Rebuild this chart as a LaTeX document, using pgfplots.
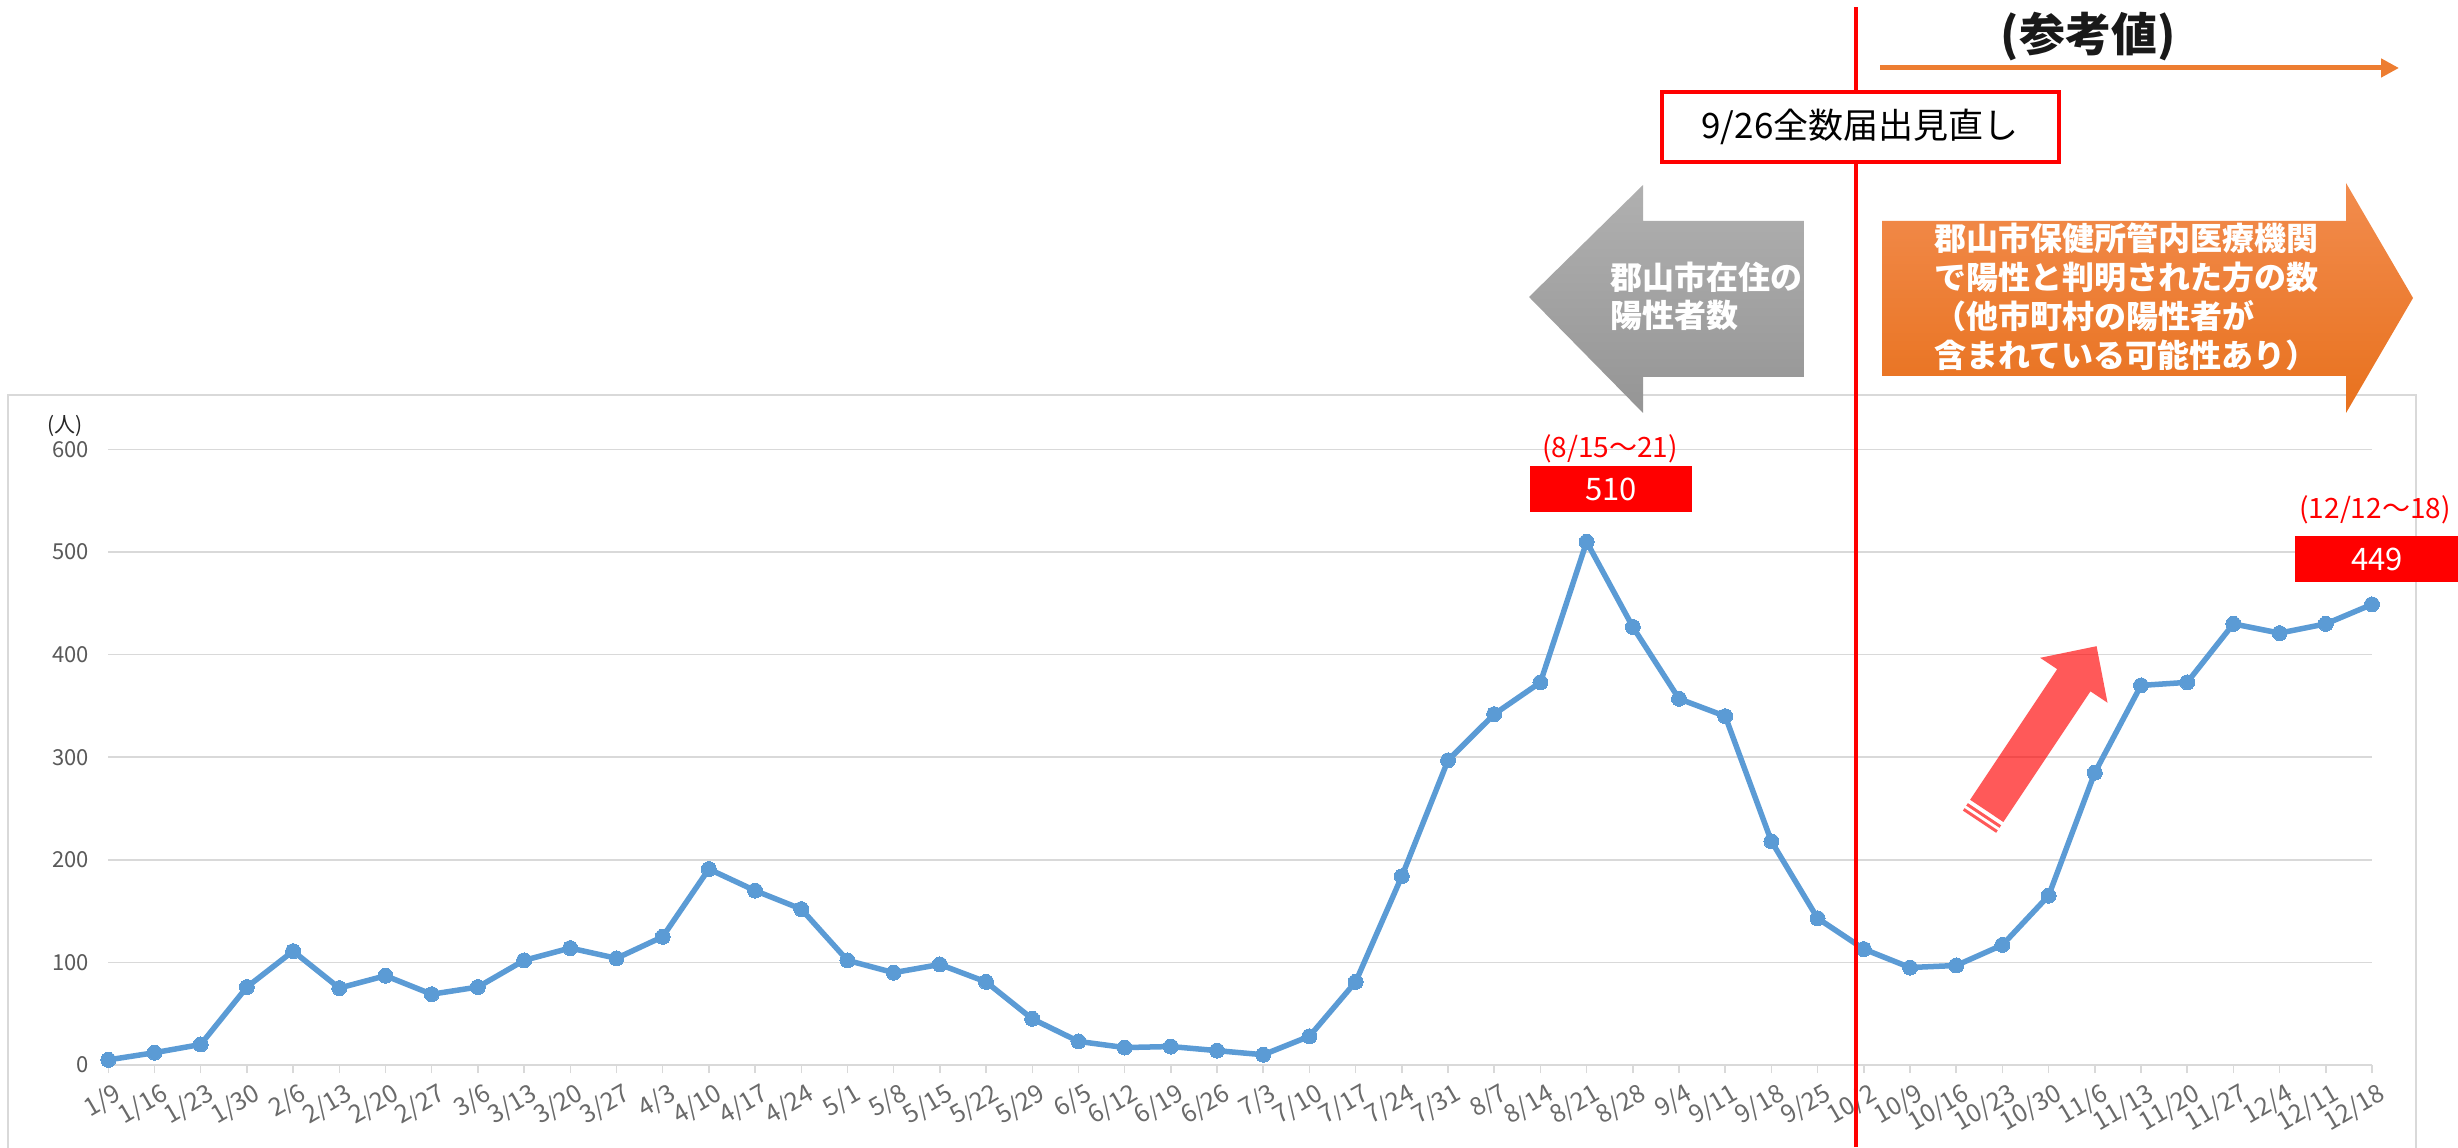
\documentclass[border=0pt]{standalone}
\usepackage{fontspec}
\usepackage{pgfplots}
\pgfplotsset{compat=1.18}
\usetikzlibrary{arrows.meta}
\setmainfont{Noto Sans CJK JP}
\definecolor{linec}{HTML}{5B9BD5}
\definecolor{gridc}{HTML}{D9D9D9}
\definecolor{tickc}{HTML}{595959}
\definecolor{xtickc}{HTML}{6A6A6A}
\definecolor{orangec}{HTML}{ED7D31}
\definecolor{ortop}{HTML}{F28C4E}
\definecolor{orbot}{HTML}{E8711D}
\definecolor{grtop}{HTML}{B0B0B0}
\definecolor{grbot}{HTML}{959595}
\newcommand\fs[1]{\fontsize{#1bp}{#1bp}\selectfont}
\begin{document}
\begin{tikzpicture}[x=1bp,y=1bp]
\path[use as bounding box] (0,0) rectangle (2458,1147);
% chart frame
\draw[gridc, line width=2bp] (8,-5) rectangle (2416,752);
\begin{axis}[
  at={(108.3bp,82bp)}, anchor=south west,
  scale only axis, width=2263.7bp, height=615.5bp,
  xmin=0, xmax=49, ymin=0, ymax=600,
  clip=false,
  axis x line*=bottom, axis y line*=left,
  x axis line style={gridc, line width=2bp},
  y axis line style={draw=none},
  ymajorgrids, major grid style={gridc, line width=1.5bp},
  ytick={0,100,...,600},
  xtick={0,...,49},
  xticklabels={1/9,1/16,1/23,1/30,2/6,2/13,2/20,2/27,3/6,3/13,3/20,3/27,4/3,4/10,4/17,4/24,5/1,5/8,5/15,5/22,5/29,6/5,6/12,6/19,6/26,7/3,7/10,7/17,7/24,7/31,8/7,8/14,8/21,8/28,9/4,9/11,9/18,9/25,10/2,10/9,10/16,10/23,10/30,11/6,11/13,11/20,11/27,12/4,12/11,12/18},
  tick align=outside, major tick length=8bp,
  xtick style={gridc, line width=1.5bp},
  ytick style={draw=none},
  /pgf/number format/assume math mode=true,
  yticklabel style={font=\fs{22}, text=tickc, xshift=-8bp},
  xticklabel style={font=\fs{25}, text=xtickc, rotate=30, anchor=east, inner sep=2bp, yshift=-22bp, xshift=2bp},
]
\addplot[linec, line width=5.5bp, mark=*, mark size=7.5bp, mark options={fill=linec, draw=linec, line width=0pt}] coordinates {
(0,5) (1,12) (2,20) (3,76) (4,111) (5,75) (6,87) (7,69) (8,76) (9,102)
(10,114) (11,104) (12,125) (13,191) (14,170) (15,152) (16,102) (17,90) (18,98) (19,81)
(20,45) (21,23) (22,17) (23,18) (24,14) (25,10) (26,28) (27,81) (28,184) (29,297)
(30,342) (31,373) (32,510) (33,427) (34,357) (35,340) (36,218) (37,143) (38,113) (39,95)
(40,97) (41,117) (42,165) (43,285) (44,370) (45,373) (46,430) (47,421) (48,430) (49,449)
};
\end{axis}
% unit label
\node[text=black!85, font=\fs{21}] at (65,721) {(人)};
% red vertical line
\draw[red, line width=3.5bp] (1856,0) -- (1856,1140);
% gray arrow
\shade[top color=grtop, bottom color=grbot] (1529,850) -- (1643,962) -- (1643,926) -- (1804,926) -- (1804,770) -- (1643,770) -- (1643,734) -- cycle;
\node[anchor=west, align=left, text=white, font={\fontsize{32bp}{38bp}\selectfont\bfseries}, inner sep=0pt] at (1610,851) {郡山市在住の\\陽性者数};
% orange arrow
\shade[top color=ortop, bottom color=orbot] (1882,926) -- (2346,926) -- (2346,964) -- (2413,849) -- (2346,734) -- (2346,771) -- (1882,771) -- cycle;
\node[anchor=west, align=left, text=white, font={\fontsize{32bp}{39bp}\selectfont\bfseries}, inner sep=0pt] at (1934,850.5) {郡山市保健所管内医療機関\\で陽性と判明された方の数\\（他市町村の陽性者が\\含まれている可能性あり）};
% reference value title and arrow
\node[font=\fs{46}\bfseries, text=black!90] at (2088,1110) {(参考値)};
\draw[orangec, line width=5bp, -{Triangle[length=18bp,width=18bp]}] (1880,1079) -- (2399,1079);
% 9/26 box
\draw[red, line width=4bp, fill=white] (1662,985) rectangle (2059,1055);
\node[font=\fs{35}, text=black] at (1860,1020) {9/26全数届出見直し};
% peak labels
\node[font=\fs{28}, text=red] at (1610,698) {(8/15～21)};
\fill[red] (1530,635) rectangle (1692,681);
\node[font=\fs{31}, text=white] at (1611,658) {510};
\node[font=\fs{28}, text=red] at (2375,637) {(12/12～18)};
\fill[red] (2295,565) rectangle (2462,611);
\node[font=\fs{31}, text=white] at (2377,588) {449};
% big red arrow
\begin{scope}[shift={(1986.7,336.1)}, rotate=56.3]
\fill[red, opacity=0.65] (0,-20) rectangle (157,20) (157,-40.5) -- (198,0) -- (157,40.5) -- cycle
  (-7,-20) rectangle (-4,20) (-13,-20) rectangle (-10,20);
\end{scope}
\end{tikzpicture}
\end{document}
